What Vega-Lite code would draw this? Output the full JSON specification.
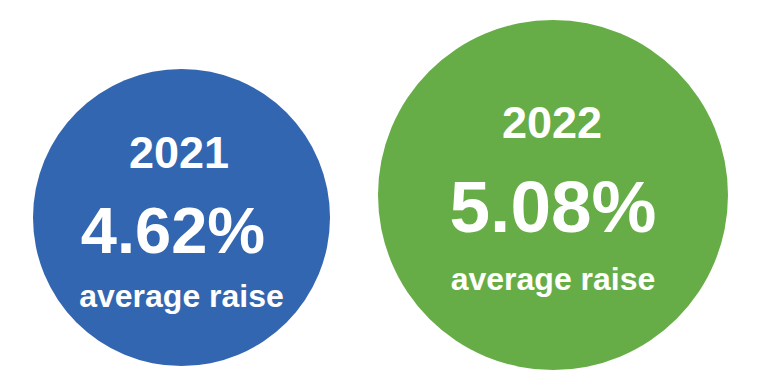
{
  "$schema": "https://vega.github.io/schema/vega-lite/v6.json",
  "width": 762,
  "height": 388,
  "autosize": {"type": "fit", "contains": "padding"},
  "padding": 0,
  "background": "white",
  "config": {"view": {"stroke": null}},
  "data": {"values": [
    {"year": "2021", "raise": 4.62, "label": "4.62%"},
    {"year": "2022", "raise": 5.08, "label": "5.08%"}
  ]},
  "layer": [
    {
      "mark": {"type": "circle", "opacity": 1},
      "encoding": {
        "x": {"field": "raise", "type": "quantitative", "axis": null, "scale": {"domain": [4.62, 5.08], "range": [181.5, 553], "nice": false, "zero": false}},
        "y": {"field": "raise", "type": "quantitative", "axis": null, "scale": {"domain": [4.62, 5.08], "range": [217.5, 195], "nice": false, "zero": false}},
        "size": {"field": "raise", "type": "quantitative", "legend": null, "scale": {"domain": [4.62, 5.08], "range": [88209, 122500], "zero": false, "nice": false}},
        "color": {"field": "year", "type": "nominal", "legend": null, "scale": {"domain": ["2021", "2022"], "range": ["#3366b0", "#67ad47"]}}
      }
    },
    {
      "mark": {"type": "text", "font": "Liberation Sans", "fontWeight": "bold", "fontSize": 45, "color": "white", "align": "center", "baseline": "alphabetic"},
      "encoding": {
        "text": {"field": "year"},
        "x": {"field": "raise", "type": "quantitative", "axis": null, "scale": {"domain": [4.62, 5.08], "range": [179, 552], "nice": false, "zero": false}},
        "y": {"field": "raise", "type": "quantitative", "axis": null, "scale": {"domain": [4.62, 5.08], "range": [168, 138.3], "nice": false, "zero": false}}
      }
    },
    {
      "mark": {"type": "text", "font": "Liberation Sans", "fontWeight": "bold", "color": "white", "align": "center", "baseline": "alphabetic"},
      "encoding": {
        "text": {"field": "label"},
        "x": {"field": "raise", "type": "quantitative", "axis": null, "scale": {"domain": [4.62, 5.08], "range": [173, 553], "nice": false, "zero": false}},
        "y": {"field": "raise", "type": "quantitative", "axis": null, "scale": {"domain": [4.62, 5.08], "range": [252.7, 231.7], "nice": false, "zero": false}},
        "size": {"field": "raise", "type": "quantitative", "legend": null, "scale": {"domain": [4.62, 5.08], "range": [65, 73], "zero": false, "nice": false}}
      }
    },
    {
      "mark": {"type": "text", "font": "Liberation Sans", "fontWeight": "bold", "fontSize": 32, "color": "white", "align": "center", "baseline": "alphabetic", "text": "average raise"},
      "encoding": {
        "x": {"field": "raise", "type": "quantitative", "axis": null, "scale": {"domain": [4.62, 5.08], "range": [181.5, 553], "nice": false, "zero": false}},
        "y": {"field": "raise", "type": "quantitative", "axis": null, "scale": {"domain": [4.62, 5.08], "range": [306.7, 290], "nice": false, "zero": false}}
      }
    }
  ],
  "resolve": {"scale": {"x": "independent", "y": "independent", "size": "independent"}}
}
